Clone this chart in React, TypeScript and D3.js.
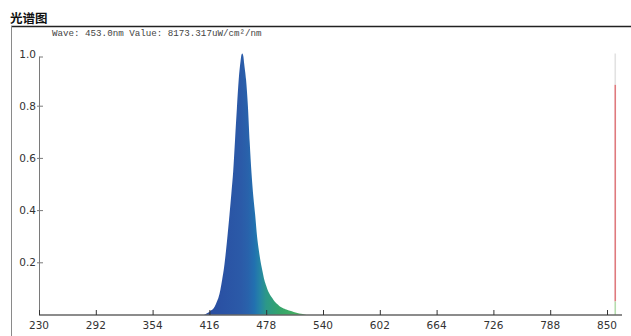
import * as d3 from 'd3';
import { useEffect, useRef } from 'react';

// spectrum (nm, relative intensity)
const waves = [
  404, 410, 412, 414, 416, 418, 420, 422, 424, 426, 428, 430, 432, 434, 436, 438, 440,
  442, 444, 446, 448, 450, 451, 452, 453, 454, 456, 458, 460, 462, 464, 466, 468, 470,
  472, 474, 476, 478, 480, 482, 484, 486, 488, 490, 492, 494, 496, 498, 500, 504, 508,
  512, 516, 520, 524, 540, 600, 700, 800, 855,
];
const intensity = [
  0, 0, 0.002, 0.006, 0.011, 0.016, 0.021, 0.032, 0.048, 0.066, 0.095, 0.135, 0.18, 0.24,
  0.31, 0.385, 0.465, 0.55, 0.67, 0.79, 0.9, 0.97, 0.995, 1.0, 0.99, 0.96, 0.9, 0.8, 0.66,
  0.54, 0.45, 0.38, 0.3, 0.245, 0.2, 0.165, 0.132, 0.11, 0.09, 0.077, 0.066, 0.056, 0.047,
  0.04, 0.034, 0.029, 0.025, 0.022, 0.019, 0.014, 0.01, 0.006, 0.003, 0.001, 0, 0, 0, 0, 0, 0,
];

// colour of the fill along the wavelength
const gradWaves = [410, 430, 450, 458, 465, 471, 478, 492, 510, 525];
const gradColors = [
  '#2a4c9e', '#2a52a4', '#2b5aa8', '#2962ab', '#2270b0', '#2584a6', '#2c9888',
  '#34a46c', '#45ae62', '#55b465',
];

const xTicks = [230, 292, 354, 416, 478, 540, 602, 664, 726, 788, 850];
const yTicks = [0.2, 0.4, 0.6, 0.8, 1.0];

// cursor line at the far right (nm, top level, red top level, red bottom level)
const markerWave = 859;
const markerLevels = [1.0, 0.88, 0.05, 0];

const title = '光谱图';
const readout = 'Wave: 453.0nm Value: 8173.317uW/cm²/nm';

const W = 631;
const H = 336;

export default function App() {
  const ref = useRef<SVGSVGElement>(null);

  useEffect(() => {
    const svg = d3.select(ref.current);
    svg.selectAll('*').remove();

    const x = d3.scaleLinear().domain([230, 850]).range([39, 607]);
    const y = d3.scaleLinear().domain([0, 1]).range([314.5, 53.5]);

    // frame
    svg.append('line')
      .attr('x1', 11).attr('x2', W).attr('y1', 26.5).attr('y2', 26.5)
      .attr('stroke', '#222').attr('stroke-width', 1.3);
    svg.append('line')
      .attr('x1', 11.5).attr('x2', 11.5).attr('y1', 26).attr('y2', H)
      .attr('stroke', '#8a8a8a').attr('stroke-width', 1);

    svg.append('text')
      .attr('x', 10).attr('y', 23)
      .attr('font-family', "'Noto Sans CJK SC', sans-serif")
      .attr('font-weight', 'bold').attr('font-size', 12.5)
      .attr('fill', '#111')
      .text(title);

    svg.append('text')
      .attr('x', 52).attr('y', 36)
      .attr('font-family', "'Liberation Mono', monospace")
      .attr('font-size', 9.2)
      .attr('fill', '#444')
      .text(readout);

    // gradient
    const grad = svg.append('defs').append('linearGradient')
      .attr('id', 'specGrad')
      .attr('gradientUnits', 'userSpaceOnUse')
      .attr('x1', x(gradWaves[0])).attr('x2', x(gradWaves[gradWaves.length - 1]))
      .attr('y1', 0).attr('y2', 0);
    const span = gradWaves[gradWaves.length - 1] - gradWaves[0];
    gradWaves.forEach((w, i) => {
      grad.append('stop')
        .attr('offset', (w - gradWaves[0]) / span)
        .attr('stop-color', gradColors[i]);
    });

    const pts = waves.map((w, i) => [w, intensity[i]] as [number, number]);
    const area = d3.area<[number, number]>()
      .x(d => x(d[0]))
      .y0(y(0))
      .y1(d => y(d[1]))
      .curve(d3.curveMonotoneX);

    svg.append('path')
      .attr('d', area(pts.filter(d => d[0] <= 540)))
      .attr('fill', 'url(#specGrad)');

    // marker line
    const mx = x(markerWave);
    const segs = [
      [markerLevels[0], markerLevels[1], '#e2e2e2'],
      [markerLevels[1], markerLevels[2], '#df7a7e'],
      [markerLevels[2], markerLevels[3], '#b5dcae'],
    ] as [number, number, string][];
    segs.forEach(([a, b, c]) => {
      svg.append('line')
        .attr('x1', mx).attr('x2', mx)
        .attr('y1', y(a)).attr('y2', y(b))
        .attr('stroke', c).attr('stroke-width', 1.6);
    });

    // y axis
    svg.append('line')
      .attr('x1', 39.5).attr('x2', 39.5).attr('y1', y(1) + 3).attr('y2', y(0))
      .attr('stroke', '#7a7a7a').attr('stroke-width', 1);
    const yg = svg.append('g');
    yTicks.forEach(t => {
      yg.append('line')
        .attr('x1', t === 1 ? 39.5 : 37).attr('x2', 43)
        .attr('y1', y(t) + (t === 1 ? 3.5 : 0.5)).attr('y2', y(t) + (t === 1 ? 3.5 : 0.5))
        .attr('stroke', '#7a7a7a');
      yg.append('text')
        .attr('x', 36).attr('y', y(t) + 4)
        .attr('text-anchor', 'end')
        .attr('font-family', "'DejaVu Sans', sans-serif")
        .attr('font-size', 10.5)
        .attr('fill', '#333')
        .text(d3.format('.1f')(t));
    });

    // x axis
    svg.append('line')
      .attr('x1', 39).attr('x2', 622).attr('y1', 315).attr('y2', 315)
      .attr('stroke', '#1a1a1a').attr('stroke-width', 1.2);
    const xg = svg.append('g');
    xTicks.forEach(t => {
      xg.append('line')
        .attr('x1', x(t) + 0.5).attr('x2', x(t) + 0.5).attr('y1', 310).attr('y2', 315)
        .attr('stroke', '#333');
      xg.append('text')
        .attr('x', x(t)).attr('y', 329)
        .attr('text-anchor', 'middle')
        .attr('font-family', "'DejaVu Sans', sans-serif")
        .attr('font-size', 10.5)
        .attr('fill', '#333')
        .text(t);
    });

    return () => {
      svg.selectAll('*').remove();
    };
  }, []);

  return (
    <svg
      ref={ref}
      width={W}
      height={H}
      style={{ position: 'absolute', left: 0, top: 0, background: '#fff' }}
    />
  );
}
